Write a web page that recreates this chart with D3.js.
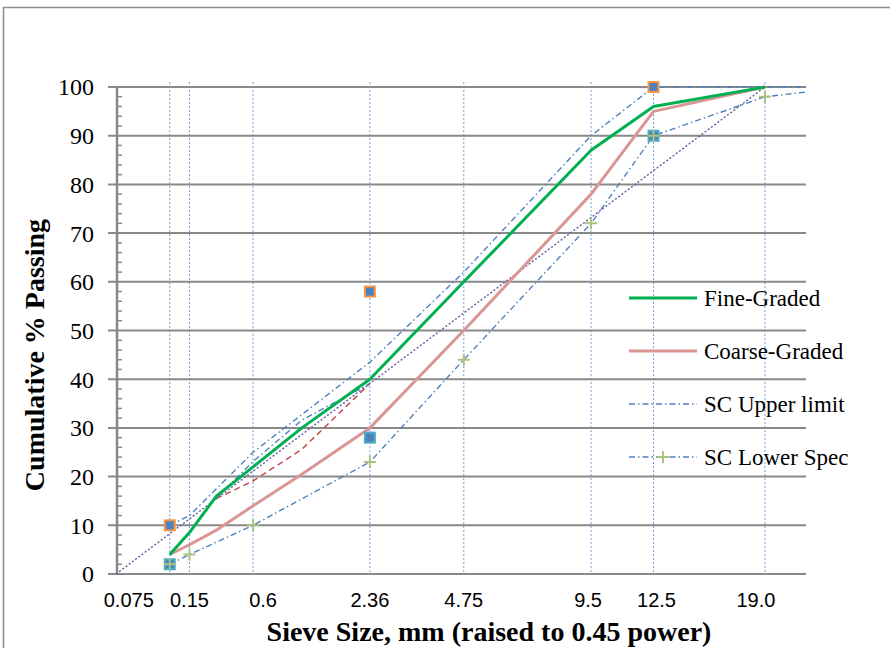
<!DOCTYPE html>
<html>
<head>
<meta charset="utf-8">
<script src="https://cdn.jsdelivr.net/npm/d3@7"></script>
<style>
  html, body { margin: 0; padding: 0; background: #fff; }
  svg { display: block; }
</style>
</head>
<body>
<svg id="chart" width="890" height="648"></svg>
<script>
// ---------- DATA ----------
const sieveSizes   = [0.075, 0.15, 0.3, 0.6, 1.18, 2.36, 4.75, 9.5, 12.5, 19.0];
const fineGraded   = [4, 8.5, 16, 22, 30, 40, 60, 87, 96, 100];
const coarseGraded = [4, 6, 9, 14, 20.5, 30, 50, 78, 95, 100];

const specSieves   = [0.075, 0.15, 0.6, 2.36, 4.75, 9.5, 12.5, 19.0, 25.0];
const scUpper      = [10, 12, 25, 43.5, 62, 90, 100, 100, 100];
const scLower      = [2, 4, 10, 23, 44, 72, 90, 98, 100];

const rzSieves     = [0.3, 0.6, 1.18, 2.36];
const rzUpper      = [15.5, 23.1, 31.6, 39.1];
const rzLower      = [15.5, 19.1, 25.6, 39.1];

const mdSieves     = [0, 19.0];
const mdValues     = [0, 100];

const ctrlSieves   = [0.075, 2.36, 12.5];
const ctrlUpper    = [10, 58, 100];
const ctrlLower    = [2, 28, 90];

const gridSieves   = [0.075, 0.15, 0.6, 2.36, 4.75, 9.5, 12.5, 19.0];
const xTickLabels  = ["0.075", "0.15", "0.6", "2.36", "4.75", "9.5", "12.5", "19.0"];
const yTicks       = [0, 10, 20, 30, 40, 50, 60, 70, 80, 90, 100];

const legendNames  = ["Fine-Graded", "Coarse-Graded", "SC Upper limit", "SC Lower Spec"];

// ---------- LAYOUT ----------
const svg = d3.select("#chart");
const L = 116, R = 806, T = 87, B = 574;

const x = d3.scalePow().exponent(0.45)
  .domain([0, Math.pow(4, 1 / 0.45)])
  .range([L, R]);
const y = d3.scaleLinear().domain([0, 100]).range([B, T]);

// outer frame
svg.append("rect")
  .attr("x", 3.5).attr("y", 7.5).attr("width", 900).attr("height", 700)
  .attr("fill", "none").attr("stroke", "#8c8c8c").attr("stroke-width", 1.5);

svg.append("defs").append("clipPath").attr("id", "plotclip")
  .append("rect").attr("x", L).attr("y", T - 10).attr("width", R - L).attr("height", B - T + 12);

// vertical sieve lines
svg.append("g").selectAll("line").data(gridSieves).join("line")
  .attr("x1", d => x(d)).attr("x2", d => x(d))
  .attr("y1", y(101)).attr("y2", y(0))
  .attr("stroke", "#5b8fd6").attr("stroke-width", 0.9)
  .attr("stroke-dasharray", "2,2");

// horizontal gridlines with outward major ticks
svg.append("g").selectAll("line").data(yTicks).join("line")
  .attr("x1", L - 8).attr("x2", R)
  .attr("y1", d => y(d)).attr("y2", d => y(d))
  .attr("stroke", "#898989").attr("stroke-width", 2);

// minor ticks
const minor = d3.range(0, 100, 2).filter(v => v % 10 !== 0);
svg.append("g").selectAll("line").data(minor).join("line")
  .attr("x1", L).attr("x2", L + 6)
  .attr("y1", d => y(d)).attr("y2", d => y(d))
  .attr("stroke", "#898989").attr("stroke-width", 1.5);

// y-axis line
svg.append("line").attr("x1", L + 1).attr("x2", L + 1).attr("y1", y(100)).attr("y2", y(0))
  .attr("stroke", "#898989").attr("stroke-width", 2.5);

// y tick labels
svg.append("g").selectAll("text").data(yTicks).join("text")
  .attr("x", 94).attr("y", d => y(d)).attr("dy", "0.35em")
  .attr("text-anchor", "end")
  .attr("font-family", "Liberation Serif, Times New Roman, serif")
  .attr("font-size", 24).attr("fill", "#000")
  .text(d => d);

// x tick labels
const labelNudge = [-41, 0, 10, 0, 0, -3, 3, -9];
svg.append("g").selectAll("text").data(gridSieves).join("text")
  .attr("x", (d, i) => x(d) + labelNudge[i])
  .attr("y", 607)
  .attr("text-anchor", "middle")
  .attr("font-family", "Liberation Sans, Arial, sans-serif")
  .attr("font-size", 20).attr("fill", "#000")
  .text((d, i) => xTickLabels[i]);

// axis titles
svg.append("text")
  .attr("x", 489).attr("y", 641)
  .attr("text-anchor", "middle")
  .attr("font-family", "Liberation Serif, Times New Roman, serif")
  .attr("font-weight", "bold").attr("font-size", 28)
  .text("Sieve Size, mm (raised to 0.45 power)");

svg.append("text")
  .attr("transform", "translate(44,355) rotate(-90)")
  .attr("text-anchor", "middle")
  .attr("font-family", "Liberation Serif, Times New Roman, serif")
  .attr("font-weight", "bold").attr("font-size", 28)
  .text("Cumulative % Passing");

// ---------- SERIES ----------
const plot = svg.append("g").attr("clip-path", "url(#plotclip)");
const line = d3.line().x(d => x(d[0])).y(d => y(d[1]));
const pairs = (xs, ys) => xs.map((v, i) => [v, ys[i]]);

const styles = {
  upper:  { stroke: "#4f81bd", width: 1.4, dash: "6,3,1.5,3" },
  lower:  { stroke: "#4f81bd", width: 1.4, dash: "6,3,1.5,3" },
  fine:   { stroke: "#00b050", width: 3,   dash: null },
  coarse: { stroke: "#d99694", width: 3,   dash: null }
};

// max density line
plot.append("path").attr("d", line(pairs(mdSieves, mdValues)))
  .attr("fill", "none").attr("stroke", "#7060a8").attr("stroke-width", 1.5)
  .attr("stroke-dasharray", "2,2");

// restricted zone
plot.append("path").attr("d", line(pairs(rzSieves, rzLower)))
  .attr("fill", "none").attr("stroke", "#c0504d").attr("stroke-width", 1.5)
  .attr("stroke-dasharray", "6,4");
plot.append("path").attr("d", line(pairs(rzSieves, rzUpper)))
  .attr("fill", "none").attr("stroke", "#4f81bd").attr("stroke-width", 1.4)
  .attr("stroke-dasharray", "6,3,1.5,3");

// spec limits
plot.append("path").attr("d", line(pairs(specSieves, scUpper)))
  .attr("fill", "none").attr("stroke", styles.upper.stroke).attr("stroke-width", styles.upper.width)
  .attr("stroke-dasharray", styles.upper.dash);
plot.append("path").attr("d", line(pairs(specSieves, scLower)))
  .attr("fill", "none").attr("stroke", styles.lower.stroke).attr("stroke-width", styles.lower.width)
  .attr("stroke-dasharray", styles.lower.dash);

// gradations
plot.append("path").attr("d", line(pairs(sieveSizes, coarseGraded)))
  .attr("fill", "none").attr("stroke", styles.coarse.stroke).attr("stroke-width", styles.coarse.width)
  .attr("stroke-linejoin", "round");
plot.append("path").attr("d", line(pairs(sieveSizes, fineGraded)))
  .attr("fill", "none").attr("stroke", styles.fine.stroke).attr("stroke-width", styles.fine.width)
  .attr("stroke-linejoin", "round");

// control points
const sq = 10;
svg.append("g").selectAll("rect").data(pairs(ctrlSieves, ctrlUpper)).join("rect")
  .attr("x", d => x(d[0]) - sq / 2).attr("y", d => y(d[1]) - sq / 2)
  .attr("width", sq).attr("height", sq)
  .attr("fill", "#4f81bd").attr("stroke", "#f79646").attr("stroke-width", 2);
svg.append("g").selectAll("rect").data(pairs(ctrlSieves, ctrlLower)).join("rect")
  .attr("x", d => x(d[0]) - sq / 2).attr("y", d => y(d[1]) - sq / 2)
  .attr("width", sq).attr("height", sq)
  .attr("fill", "#4f81bd").attr("stroke", "#4bacc6").attr("stroke-width", 2);

// lower spec plus markers
const plusPath = (cx, cy, r) => `M${cx - r},${cy}H${cx + r}M${cx},${cy - r}V${cy + r}`;
svg.append("g").selectAll("path").data(pairs(specSieves, scLower).filter(d => d[0] <= 19)).join("path")
  .attr("d", d => plusPath(x(d[0]), y(d[1]), 6))
  .attr("stroke", "#a9c47f").attr("stroke-width", 2).attr("fill", "none");

// ---------- LEGEND ----------
const legendY = [298, 351, 404, 457];
const legendStyles = [styles.fine, styles.coarse, styles.upper, styles.lower];
const lg = svg.append("g");
legendNames.forEach((name, i) => {
  const st = legendStyles[i];
  const ly = legendY[i];
  const ln = lg.append("line").attr("x1", 629).attr("x2", 697).attr("y1", ly).attr("y2", ly)
    .attr("stroke", st.stroke).attr("stroke-width", st.width);
  if (st.dash) ln.attr("stroke-dasharray", st.dash);
  if (i === 3) {
    lg.append("path").attr("d", plusPath(663, ly, 6))
      .attr("stroke", "#a9c47f").attr("stroke-width", 2).attr("fill", "none");
  }
  lg.append("text").attr("x", 704).attr("y", ly).attr("dy", "0.35em")
    .attr("font-family", "Liberation Serif, Times New Roman, serif")
    .attr("font-size", 23).attr("fill", "#000")
    .text(name);
});
</script>
</body>
</html>
